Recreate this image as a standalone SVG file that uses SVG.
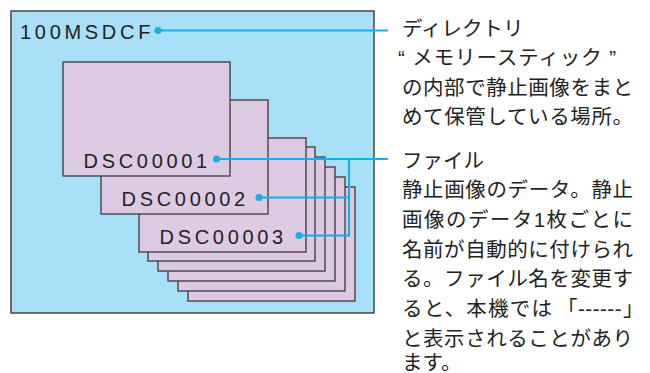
<svg xmlns="http://www.w3.org/2000/svg" width="650" height="373" viewBox="0 0 650 373">
<style>
.card{fill:#dccbe3;stroke:#3a3a3a;stroke-width:1.3}
.frame{fill:#aadff8;stroke:#3a3a3a;stroke-width:1.4}
.lbl{font-family:"Liberation Sans",Arial,sans-serif;font-size:20px;letter-spacing:3.7px;fill:#222}
.jp{font-family:"Liberation Sans","Noto Sans CJK JP",sans-serif;font-size:20.5px;fill:#222}
.con{stroke:#1aaee5;stroke-width:2.2;fill:none}
.dot{fill:#1aaee5}
</style>
<rect width="650" height="373" fill="#ffffff"/>
<g id="folder">
<rect class="frame" x="11" y="11" width="363" height="302"/>
<text class="lbl" x="20" y="38.5">100MSDCF</text>
</g>
<g id="files-back">
<rect class="card" x="188" y="187" width="167" height="114"/>
<rect class="card" x="178" y="177" width="167" height="114"/>
<rect class="card" x="168" y="167" width="167" height="114"/>
<rect class="card" x="158" y="157" width="167" height="114"/>
<rect class="card" x="148" y="147" width="167" height="114"/>
</g>
<g id="file3">
<rect class="card" x="139" y="138" width="167" height="114"/>
<text class="lbl" x="159.5" y="243.5">DSC00003</text>
</g>
<g id="file2">
<rect class="card" x="101" y="100" width="167" height="114"/>
<text class="lbl" x="121.5" y="205.5">DSC00002</text>
</g>
<g id="file1">
<rect class="card" x="63" y="62" width="167" height="114"/>
<text class="lbl" x="83.5" y="167.5">DSC00001</text>
</g>
<g id="connectors">
<line class="con" x1="158" y1="30.5" x2="388" y2="30.5"/>
<circle class="dot" cx="158" cy="30.5" r="3.6"/>
<line class="con" x1="216.5" y1="159" x2="388" y2="159"/>
<polyline class="con" points="349,159 349,235.5 299,235.5"/>
<line class="con" x1="259" y1="197.5" x2="349" y2="197.5"/>
<circle class="dot" cx="216.5" cy="159" r="3.6"/>
<circle class="dot" cx="259" cy="197.5" r="3.6"/>
<circle class="dot" cx="299" cy="235.5" r="3.6"/>
</g>
<g id="note-directory">
<text class="jp" x="402" y="35.5">ディレクトリ</text>
<text class="jp" x="398" y="65" textLength="218" lengthAdjust="spacing">“ メモリースティック ”</text>
<text class="jp" x="402" y="94.5" textLength="231" lengthAdjust="spacing">の内部で静止画像をまと</text>
<text class="jp" x="402" y="124" textLength="231" lengthAdjust="spacing">めて保管している場所。</text>
</g>
<g id="note-file">
<text class="jp" x="402" y="167.5">ファイル</text>
<text class="jp" x="402" y="197.2" textLength="231" lengthAdjust="spacing">静止画像のデータ。静止</text>
<text class="jp" x="402" y="226.9" textLength="231" lengthAdjust="spacing">画像のデータ1枚ごとに</text>
<text class="jp" x="402" y="256.6" textLength="231" lengthAdjust="spacing">名前が自動的に付けられ</text>
<text class="jp" x="402" y="286.3" textLength="231" lengthAdjust="spacing">る。ファイル名を変更す</text>
<text class="jp" x="402" y="316"><tspan textLength="150" lengthAdjust="spacing">ると、本機では</tspan><tspan x="557">「</tspan><tspan x="578" letter-spacing="0.5">------</tspan><tspan x="623">」</tspan></text>
<text class="jp" x="402" y="345.7" textLength="231" lengthAdjust="spacing">と表示されることがあり</text>
<text class="jp" x="402" y="369.5">ます。</text>
</g>
</svg>
